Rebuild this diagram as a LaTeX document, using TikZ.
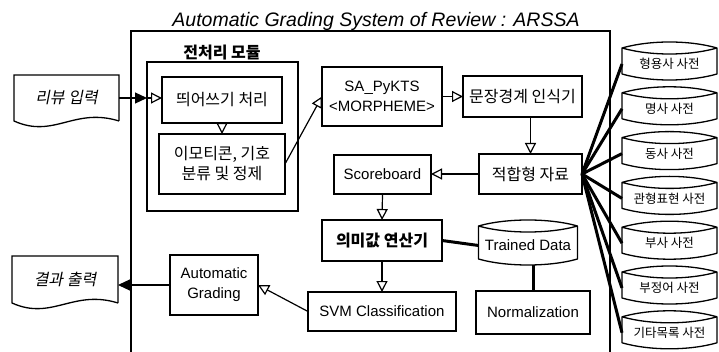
\documentclass[tikz,border=0pt]{standalone}
\usepackage{fontspec}
\usepackage{tikz}
\usetikzlibrary{arrows.meta}
\usetikzlibrary{calc}
\setmainfont{Liberation Sans}
\newfontfamily\kr{Noto Sans CJK KR}
\newfontfamily\krit{Noto Sans CJK KR}[FakeSlant=0.2]
\newcommand{\storeshape}[1]{%
\draw[line width=1.3pt,line join=round] (#1.north west) .. controls +(28,-8) and +(-28,-8) .. (#1.north east)
  .. controls +(-28,8) and +(28,8) .. (#1.north west)
  -- ($(#1.south west)+(0,-6)$) .. controls +(28,8) and +(-28,8) .. ($(#1.south east)+(0,-6)$)
  -- (#1.north east);}
\newcommand{\docshape}[1]{%
\draw[line width=1.3pt] (#1.south east) -- (#1.north east) -- (#1.north west) -- (#1.south west)
  .. controls +(40,18) and +(-45,-14) .. (#1.south east);}

\begin{document}
\begin{tikzpicture}[x=1pt,y=-1pt,
  box/.style={draw,line width=1.3pt,inner sep=0pt,outer sep=0pt,align=center,font=\fontsize{15}{20}\selectfont},
  kbox/.style={box,font=\kr\fontsize{16}{20}\selectfont},
  store/.style={inner sep=0pt,outer sep=0pt,align=center},
  docnode/.style={inner sep=0pt,outer sep=0pt,font=\krit\fontsize{16}{18}\selectfont},
  opena/.style={line width=1.2pt,-{Triangle[open,length=11pt,width=11pt]}},
  filleda/.style={line width=1.2pt,-{Triangle[length=12pt,width=11pt]}},
  link/.style={line width=3pt}]
\useasboundingbox (0,0) rectangle (719,352);

\node[anchor=base,font=\itshape\fontsize{19.5}{22}\selectfont] (title) at (376,27) {Automatic Grading System of Review : ARSSA};
\draw[line width=1.5pt] (131,352) -- (131,31) -- (610,31) -- (610,352);

\node[draw,line width=1.3pt,minimum width=151,minimum height=149,outer sep=0pt] (prep) at (222.5,136.5) {};
\node[font=\kr\bfseries\fontsize{16}{18}\selectfont] (preplabel) at (222,53) {전처리 모듈};
\node[kbox,minimum width=120,minimum height=46] (space) at (222,100) {띄어쓰기 처리};
\node[kbox,minimum width=126,minimum height=60] (emo) at (222,164) {이모티콘, 기호\\분류 및 정제};

\node[docnode,minimum width=105,minimum height=46] (review) at (66.5,98) {리뷰 입력};
\docshape{review}
\node[docnode,minimum width=106,minimum height=47] (result) at (65,279.5) {결과 출력};
\docshape{result}

\node[box,minimum width=120,minimum height=59] (sa) at (382,96.5) {SA\_PyKTS\\<MORPHEME>};
\node[kbox,minimum width=119,minimum height=41] (sent) at (522.5,96.5) {문장경계 인식기};
\node[kbox,minimum width=103,minimum height=40] (fit) at (530.5,174) {적합형 자료};
\node[box,minimum width=97,minimum height=39] (score) at (382.5,174.5) {Scoreboard};
\node[kbox,font=\kr\bfseries\fontsize{16}{20}\selectfont,minimum width=120,minimum height=41] (calc) at (382,240.5) {의미값 연산기};
\node[store,font=\fontsize{15}{18}\selectfont,minimum width=99,minimum height=39] (trained) at (528,245.5) {Trained Data};
\storeshape{trained}
\node[box,minimum width=114,minimum height=43] (norm) at (533,312.5) {Normalization};
\node[box,minimum width=148,minimum height=39] (svm) at (382,311.5) {SVM Classification};
\node[box,minimum width=88,minimum height=60] (ag) at (214,285) {Automatic\\Grading};

\foreach \name [count=\i from 0] in {형용사 사전,명사 사전,동사 사전,관형표현 사전,부사 사전,부정어 사전,기타목록 사전}{
\node[store,font=\kr\fontsize{12.5}{14}\selectfont,minimum width=95,minimum height=32] (dict\i) at (669.5,64+44.8*\i) {\name};
\storeshape{dict\i}
\draw[link] (fit.east) -- (dict\i.west);
}

\draw[filleda] (review.east) -- (prep.west |- review.east);
\draw[opena] (prep.west |- review.east) -- (space.west |- review.east);
\draw[opena] (space.south) -- (emo.north);
\draw[opena] (emo.east) -- (sa.west);
\draw[opena] (sa.east) -- (sent.west |- sa.east);
\draw[opena] (fit.north |- sent.south) -- (fit.north);
\draw[opena] (fit.west) -- (score.east |- fit.west);
\draw[opena] (score.south) -- (calc.north);
\draw[opena] (calc.south) -- (svm.north);
\draw[opena] (svm.west) -- (ag.east);
\draw[filleda] (ag.west) -- (result.east |- ag.west);
\draw[link] (calc.east) -- (trained.west);
\draw[link] (norm.north |- trained.south) -- (norm.north);
\end{tikzpicture}
\end{document}
